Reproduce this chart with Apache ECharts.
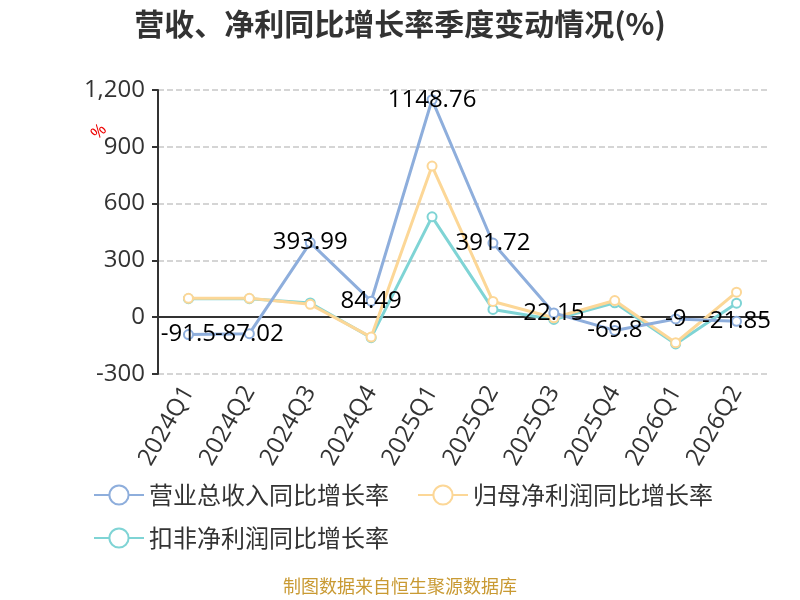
<!DOCTYPE html>
<html lang="zh">
  <head>
    <meta charset="UTF-8" />
    <title>营收、净利同比增长率季度变动情况</title>
    <script src="https://cdn.jsdelivr.net/npm/echarts@6/dist/echarts.min.js"></script>
    <style>
      body { margin: 0; }
    </style>
  </head>
  <body>
    <div id="main" style="width: 800px; height: 600px"></div>
    <script type="text/javascript">
      const quarters = ["2024Q1", "2024Q2", "2024Q3", "2024Q4", "2025Q1", "2025Q2", "2025Q3", "2025Q4", "2026Q1", "2026Q2"];
      const revenueYoY = [-91.5, -87.02, 393.99, 84.49, 1148.76, 391.72, 22.15, -69.8, -9, -21.85];
      const netProfitYoY = [100, 100, 68, -105, 798, 83, -3, 88, -135, 132];
      const deductedProfitYoY = [98, 98, 75, -108, 530, 41, -12, 76, -141, 74];
      const seriesNames = ["营业总收入同比增长率", "归母净利润同比增长率", "扣非净利润同比增长率"];
      const colors = ["#8eaedc", "#fcd797", "#7fd4d5"];

      const font = "'Open Sans', 'Noto Sans CJK SC', sans-serif";
      const cjkFont = "'Noto Sans CJK SC', sans-serif";

      function lineSeries(i, data, withLabel) {
        return {
          name: seriesNames[i],
          type: "line",
          data: data,
          symbol: "emptyCircle",
          symbolSize: 9,
          lineStyle: { width: 3, color: colors[i] },
          itemStyle: { color: colors[i], borderWidth: 2 },
          label: withLabel
            ? { show: true, position: "inside", color: "#000", fontSize: 24, fontFamily: font }
            : { show: false },
          z: 3 - i,
        };
      }

      const legendBase = {
        left: 88,
        itemWidth: 50,
        itemHeight: 24,
        itemGap: 28,
        textStyle: { fontSize: 24, color: "#333", fontFamily: cjkFont },
      };

      let myChart = echarts.init(document.getElementById("main"));
      myChart.setOption({
        animation: false,
        textStyle: { fontFamily: font },
        title: {
          text: "营收、净利同比增长率季度变动情况(%)",
          left: "center",
          top: 4,
          textStyle: { fontSize: 30, fontWeight: "bold", color: "#333", fontFamily: cjkFont },
        },
        grid: { left: 158, right: 33, top: 90, bottom: 226 },
        legend: [
          Object.assign({ data: seriesNames.slice(0, 2), top: 478 }, legendBase),
          Object.assign({ data: seriesNames.slice(2), top: 521 }, legendBase),
        ],
        xAxis: [
          {
            type: "category",
            data: quarters,
            axisLine: { onZero: true, lineStyle: { color: "#333", width: 2 } },
            axisTick: { length: 6, lineStyle: { color: "#333", width: 2 } },
            axisLabel: { show: false },
          },
          {
            type: "category",
            data: quarters,
            position: "bottom",
            axisLine: { show: false },
            axisTick: { show: false },
            axisLabel: { rotate: 60, fontSize: 24, color: "#333", margin: 14 },
          },
        ],
        yAxis: {
          type: "value",
          min: -300,
          max: 1200,
          interval: 300,
          axisLine: { show: true, lineStyle: { color: "#333", width: 2 } },
          axisTick: { show: true, length: 6, lineStyle: { color: "#333", width: 2 } },
          axisLabel: { fontSize: 24, color: "#333", margin: 13 },
          splitLine: { lineStyle: { type: "dashed", color: "#c8c8c8", width: 1.5 } },
        },
        graphic: [
          {
            type: "text",
            left: 88,
            top: 121,
            rotation: Math.PI / 4,
            style: { text: "%", fill: "#e00", fontSize: 17, fontFamily: font },
          },
          {
            type: "text",
            left: "center",
            top: 577,
            style: { text: "制图数据来自恒生聚源数据库", fill: "#c99a33", fontSize: 18, fontFamily: cjkFont },
          },
        ],
        series: [
          lineSeries(0, revenueYoY, true),
          lineSeries(1, netProfitYoY, false),
          lineSeries(2, deductedProfitYoY, false),
        ],
      });
    </script>
  </body>
</html>
